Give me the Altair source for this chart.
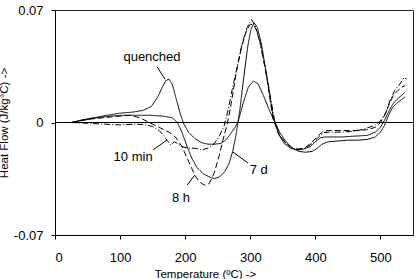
import altair as alt
import pandas as pd

# ---- data ----
q_T = [25,40,60,80,100,120,135,148,158,165,170,175,180,186,192,198,205,215,225,235,245,255,262,268,275,281,289,297,305,312,320,330,338,345,355,365,375,385,395,403,410,420,435,450,465,480,492,500,506,512,518,525,532,538]
q_V = [0,0.0015,0.003,0.0045,0.0058,0.0065,0.0075,0.010,0.016,0.022,0.026,0.027,0.024,0.015,0.006,-0.001,-0.006,-0.010,-0.0125,-0.0135,-0.0135,-0.013,-0.011,-0.008,-0.004,0.0,0.012,0.022,0.0258,0.024,0.017,0.007,0.0,-0.006,-0.012,-0.016,-0.018,-0.0185,-0.018,-0.016,-0.0135,-0.012,-0.0115,-0.011,-0.011,-0.0105,-0.009,-0.006,-0.002,0.004,0.009,0.012,0.014,0.016]

m10_T = [25,50,75,100,125,140,150,160,167,172,178,183,188,195,205,215,225,235,245,253,260,266,272,280,288,295,302,308,315,322,330,337,345,355,365,375,385,395,405,412,420,440,460,475,490,500,508,515,522,530,536,540]
m10_V = [0,-0.0005,-0.001,-0.0015,-0.001,-0.0015,-0.0025,-0.005,-0.008,-0.011,-0.014,-0.012,-0.013,-0.015,-0.016,-0.016,-0.017,-0.016,-0.013,-0.008,-0.002,0.008,0.020,0.035,0.050,0.059,0.064,0.060,0.050,0.036,0.018,0.002,-0.008,-0.013,-0.016,-0.017,-0.016,-0.013,-0.009,-0.0065,-0.006,-0.006,-0.0055,-0.004,-0.002,0.001,0.006,0.014,0.020,0.024,0.028,0.027]

h8_T = [25,50,75,100,115,130,145,160,175,185,195,205,215,222,230,237,245,252,258,264,270,278,286,294,300,305,310,316,325,335,345,355,365,375,385,395,405,412,420,440,460,480,492,500,507,514,520,527,533,538]
h8_V = [0,0.002,0.003,0.004,0.0045,0.003,0.0,-0.003,-0.006,-0.009,-0.015,-0.024,-0.033,-0.037,-0.039,-0.038,-0.031,-0.021,-0.011,-0.002,0.010,0.030,0.046,0.057,0.061,0.061,0.057,0.048,0.029,0.002,-0.008,-0.013,-0.016,-0.0165,-0.0155,-0.012,-0.008,-0.0055,-0.005,-0.005,-0.005,-0.0045,-0.003,0.0,0.005,0.012,0.017,0.020,0.022,0.023]

d7_T = [25,45,65,85,105,125,145,165,180,188,195,202,210,218,228,238,245,252,260,267,273,278,284,290,296,301,306,311,317,325,335,343,352,362,372,382,392,400,408,415,425,440,460,480,492,500,507,514,520,527,533,538]
d7_V = [0,0.0015,0.003,0.004,0.0045,0.0045,0.0045,0.004,0.003,0.0,-0.006,-0.014,-0.022,-0.028,-0.032,-0.034,-0.035,-0.034,-0.031,-0.026,-0.018,-0.008,0.008,0.028,0.047,0.058,0.062,0.059,0.049,0.030,0.004,-0.007,-0.013,-0.016,-0.017,-0.0165,-0.015,-0.012,-0.0095,-0.009,-0.009,-0.009,-0.0085,-0.008,-0.006,-0.003,0.002,0.008,0.012,0.015,0.017,0.019]

series_names = ["quenched", "10 min", "8 h", "7 d"]
series_dash = [[1, 0], [6, 2, 1, 2], [6, 3], [1, 0]]

label_text = ["quenched", "10 min", "8 h", "7 d"]
label_T = [149, 120, 193.5, 313]
label_V = [0.0408, -0.0215, -0.047, -0.0296]
lead_T1 = [157, 150.5, 203, 296.5]
lead_V1 = [0.0345, -0.0171, -0.0389, -0.0252]
lead_T2 = [169, 172, 215, 273.5]
lead_V2 = [0.027, -0.0109, -0.0327, -0.0184]

x_ticks = [0, 100, 200, 300, 400, 500]
y_ticks = [-0.07, 0, 0.07]
y_tick_labels = ["-0.07", "0", "0.07"]

# ---- tables ----
rows = []
for name, T, V in [("quenched", q_T, q_V), ("10 min", m10_T, m10_V), ("8 h", h8_T, h8_V), ("7 d", d7_T, d7_V)]:
    for t, v in zip(T, V):
        rows.append({"series": name, "T": t, "V": v})
df = pd.DataFrame(rows)
lab = pd.DataFrame({"text": label_text, "T": label_T, "V": label_V,
                    "T1": lead_T1, "V1": lead_V1, "T2": lead_T2, "V2": lead_V2})

label_expr = " : ".join(
    [f"datum.value == {v} ? '{s}'" for v, s in zip(y_ticks, y_tick_labels)]
) + " : ''"

FONT = "Liberation Sans"
xscale = alt.Scale(domain=[0, 550], nice=False, zero=False)
yscale = alt.Scale(domain=[-0.07, 0.07], nice=False, zero=False)

xaxis = alt.Axis(values=x_ticks, title="Temperature (ºC) ->", grid=False,
                 labelPadding=12, tickSize=4, titleFontSize=11.5, titleFontWeight="normal",
                 titleX=150, titleY=42, titleBaseline="alphabetic", titleAlign="center")
yaxis = alt.Axis(values=y_ticks, title="Heat Flow (J/kg°C) ->", grid=False,
                 labelExpr=label_expr, labelPadding=8, tickSize=4,
                 titleFontSize=11.5, titleFontWeight="normal",
                 titleX=-46, titleY=112.5, titleAlign="center")

lines = alt.Chart(df).mark_line(color="black", strokeWidth=1).encode(
    x=alt.X("T:Q", scale=xscale, axis=xaxis),
    y=alt.Y("V:Q", scale=yscale, axis=yaxis),
    strokeDash=alt.StrokeDash("series:N", scale=alt.Scale(domain=series_names, range=series_dash), legend=None),
    detail="series:N",
)

zero = alt.Chart(pd.DataFrame({"y": [0]})).mark_rule(color="black", strokeWidth=1.2).encode(
    y=alt.Y("y:Q", scale=yscale)
)

leaders = alt.Chart(lab).mark_rule(color="black", strokeWidth=1).encode(
    x=alt.X("T1:Q", scale=xscale), x2="T2:Q",
    y=alt.Y("V1:Q", scale=yscale), y2="V2:Q",
)

texts = alt.Chart(lab).mark_text(font=FONT, fontSize=13, color="black", baseline="middle", align="center").encode(
    x=alt.X("T:Q", scale=xscale), y=alt.Y("V:Q", scale=yscale), text="text:N"
)

chart = alt.layer(lines, zero, leaders, texts).properties(
    width=358, height=225,
    autosize=alt.AutoSizeParams(type="none"),
    padding={"left": 55, "top": 10, "right": 3, "bottom": 44},
    background="white",
).configure_view(stroke="#222", strokeWidth=1).configure_axis(
    domainColor="black", tickColor="black", labelColor="black", titleColor="black",
    labelFont=FONT, titleFont=FONT, labelFontSize=13,
)

chart.save("out.html", embed_options={"renderer": "svg", "actions": False})
